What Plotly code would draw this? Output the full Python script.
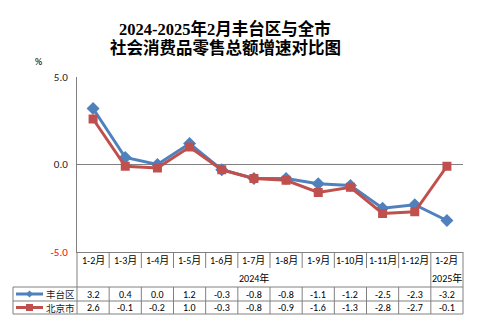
import plotly.graph_objects as go

# Monthly cumulative growth of retail sales (%)
periods = ["1-2月", "1-3月", "1-4月", "1-5月", "1-6月", "1-7月", "1-8月",
           "1-9月", "1-10月", "1-11月", "1-12月", "1-2月"]
years = ["2024年", "2025年"]
fengtai = [3.2, 0.4, 0.0, 1.2, -0.3, -0.8, -0.8, -1.1, -1.2, -2.5, -2.3, -3.2]
beijing = [2.6, -0.1, -0.2, 1.0, -0.3, -0.8, -0.9, -1.6, -1.3, -2.8, -2.7, -0.1]
series_names = ["丰台区", "北京市"]

BLUE = "#4F81BD"
RED = "#C0504D"
GRID = "#808080"
TXT_FONT = "Calibri, Noto Sans CJK SC, sans-serif"

W, H = 495, 329
L, R, T, B = 77, 32, 77, 77
PW, PH = W - L - R, H - T - B
n = len(periods)
xs = list(range(n))


def px_x(px):
    return (px - L) / PW


def px_y(py):
    return (H - B - py) / PH


fig = go.Figure()
fig.add_trace(go.Scatter(
    x=xs, y=fengtai, name=series_names[0], mode="lines+markers",
    line=dict(color=BLUE, width=3),
    marker=dict(symbol="diamond", size=10, color=BLUE),
    cliponaxis=False, showlegend=False))
fig.add_trace(go.Scatter(
    x=xs, y=beijing, name=series_names[1], mode="lines+markers",
    line=dict(color=RED, width=3),
    marker=dict(symbol="square", size=9, color=RED),
    cliponaxis=False, showlegend=False))

shapes = []
line_style = dict(color=GRID, width=1)

# table grid below the plot
row_label_bot = 268
row_year_bot = 287
row1_bot = 301
row2_bot = 314
left_edge = 13

for k in range(1, n - 1):
    shapes.append(dict(type="line", xref="paper", yref="paper",
                       x0=k / n, x1=k / n, y0=0, y1=px_y(row_label_bot),
                       line=line_style))
for xv in (0, (n - 1) / n, 1):
    shapes.append(dict(type="line", xref="paper", yref="paper",
                       x0=xv, x1=xv, y0=0, y1=px_y(row2_bot), line=line_style))
for k in range(1, n - 1):
    shapes.append(dict(type="line", xref="paper", yref="paper",
                       x0=k / n, x1=k / n, y0=px_y(row_year_bot), y1=px_y(row2_bot),
                       line=line_style))
shapes.append(dict(type="line", xref="paper", yref="paper",
                   x0=px_x(left_edge), x1=px_x(left_edge),
                   y0=px_y(row_year_bot), y1=px_y(row2_bot), line=line_style))
for yy in (row_year_bot, row1_bot, row2_bot):
    shapes.append(dict(type="line", xref="paper", yref="paper",
                       x0=px_x(left_edge), x1=1, y0=px_y(yy), y1=px_y(yy),
                       line=line_style))

# legend keys inside the table
key_x0, key_x1, key_mid = 16, 43, 29.5
row_centers = [(row_year_bot + row1_bot) / 2, (row1_bot + row2_bot) / 2]
for cy, col, sym in zip(row_centers, [BLUE, RED], ["diamond", "square"]):
    shapes.append(dict(type="line", xref="paper", yref="paper",
                       x0=px_x(key_x0), x1=px_x(key_x1), y0=px_y(cy), y1=px_y(cy),
                       line=dict(color=col, width=3)))
    if sym == "square":
        shapes.append(dict(type="rect", xref="paper", yref="paper",
                           x0=px_x(key_mid - 3.5), x1=px_x(key_mid + 3.5),
                           y0=px_y(cy - 3.5), y1=px_y(cy + 3.5),
                           fillcolor=col, line=dict(width=0)))
    else:
        d = 3.5
        path = (f"M {px_x(key_mid - d)} {px_y(cy)} L {px_x(key_mid)} {px_y(cy - d)} "
                f"L {px_x(key_mid + d)} {px_y(cy)} L {px_x(key_mid)} {px_y(cy + d)} Z")
        shapes.append(dict(type="path", xref="paper", yref="paper", path=path,
                           fillcolor=col, line=dict(width=0)))

annotations = []
tfont = dict(family=TXT_FONT, size=10, color="#000000")
for i, p in enumerate(periods):
    annotations.append(dict(x=i, y=px_y((252 + row_label_bot) / 2 + 0.5), xref="x", yref="paper",
                            text=p, showarrow=False, font=tfont, borderpad=0,
                            xanchor="center", yanchor="middle"))
annotations.append(dict(x=(n - 2) / 2, y=px_y((row_label_bot + row_year_bot) / 2 + 0.5),
                        xref="x", yref="paper", text=years[0], showarrow=False,
                        font=tfont, borderpad=0, xanchor="center", yanchor="middle"))
annotations.append(dict(x=n - 1, y=px_y((row_label_bot + row_year_bot) / 2 + 0.5),
                        xref="x", yref="paper", text=years[1], showarrow=False,
                        font=tfont, borderpad=0, xanchor="center", yanchor="middle"))
for vals, cy in zip([fengtai, beijing], row_centers):
    for i, v in enumerate(vals):
        annotations.append(dict(x=i, y=px_y(cy), xref="x", yref="paper",
                                text=f"{v:.1f}", showarrow=False, font=tfont,
                                borderpad=0, xanchor="center", yanchor="middle"))
for name, cy in zip(series_names, row_centers):
    annotations.append(dict(x=px_x(45), y=px_y(cy), xref="paper", yref="paper",
                            text=name, showarrow=False, borderpad=0,
                            font=dict(family="Noto Sans CJK SC", size=9.5, color="#1a1a1a"),
                            xanchor="left", yanchor="middle"))

# unit label
annotations.append(dict(x=px_x(38), y=px_y(61), xref="paper", yref="paper",
                        text="%", showarrow=False,
                        font=dict(family=TXT_FONT, size=10, color="#000000"),
                        xanchor="center", yanchor="middle"))

# two-line title
title_font = dict(family="Liberation Serif, Noto Sans CJK SC, serif", size=16.5, color="#000000")
annotations.append(dict(x=px_x(225), y=px_y(29), xref="paper", yref="paper",
                        text="<b>2024-2025年2月丰台区与全市</b>", showarrow=False,
                        font=title_font, xanchor="center", yanchor="middle"))
annotations.append(dict(x=px_x(225), y=px_y(48), xref="paper", yref="paper",
                        text="<b>社会消费品零售总额增速对比图</b>", showarrow=False,
                        font=title_font, xanchor="center", yanchor="middle"))

fig.update_layout(
    width=W, height=H,
    margin=dict(l=L, r=R, t=T, b=B),
    paper_bgcolor="white", plot_bgcolor="white",
    showlegend=False,
    shapes=shapes, annotations=annotations,
    xaxis=dict(range=[-0.5, n - 0.5], showgrid=False, zeroline=False,
               showticklabels=False, ticks="", showline=True,
               linecolor=GRID, linewidth=1, fixedrange=True),
    yaxis=dict(range=[-5, 5], tickvals=[5, 0, -5],
               ticktext=["5.0", "0.0", '<span style="color:#FF0000">-5.0</span>'],
               showgrid=False, zeroline=True, zerolinecolor=GRID, zerolinewidth=1,
               showline=True, linecolor=GRID, linewidth=1, ticks="",
               ticklabelstandoff=6,
               tickfont=dict(family=TXT_FONT, size=11, color="#1a1a1a"),
               fixedrange=True),
)

fig.write_html("out.html")
